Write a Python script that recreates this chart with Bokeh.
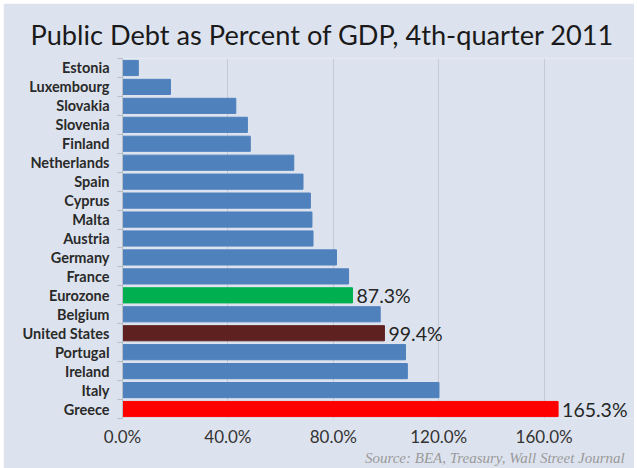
from bokeh.plotting import figure
from bokeh.models import (ColumnDataSource, Range1d, FixedTicker, PrintfTickFormatter,
                          LabelSet, Title)
from bokeh.core.properties import value
from bokeh.embed import file_html
from bokeh.resources import INLINE

countries = ["Estonia", "Luxembourg", "Slovakia", "Slovenia", "Finland", "Netherlands",
             "Spain", "Cyprus", "Malta", "Austria", "Germany", "France", "Eurozone",
             "Belgium", "United States", "Portugal", "Ireland", "Italy", "Greece"]
debt_pct = [6.0, 18.2, 43.0, 47.4, 48.5, 65.0, 68.5, 71.3, 71.9, 72.3, 81.2, 85.8, 87.3,
            97.8, 99.4, 107.4, 108.1, 120.1, 165.3]
x_ticks = [0, 40, 80, 120, 160]
labelled = {"Eurozone": "87.3%", "United States": "99.4%", "Greece": "165.3%"}
highlight = {"Eurozone": "#00b050", "United States": "#5e2120", "Greece": "#ff0000"}

BG = "#dde3ee"
BLUE = "#4f81bd"

n = len(countries)
idx = list(range(n))
colors = [highlight.get(c, BLUE) for c in countries]

src = ColumnDataSource(dict(y=idx, v=debt_pct, name=countries, color=colors))
lab_src = ColumnDataSource(dict(
    y=[countries.index(c) for c in labelled],
    v=[debt_pct[countries.index(c)] for c in labelled],
    t=list(labelled.values())))

p = figure(frame_width=512, frame_height=360,
           x_range=Range1d(0, 194.3), y_range=Range1d(n - 0.5, -0.5),
           output_backend="svg", toolbar_location=None,
           min_border_left=119, min_border_right=0, min_border_top=55, min_border_bottom=50)
p.margin = (3, 3, 0, 3)
p.background_fill_color = BG
p.border_fill_color = BG
p.outline_line_color = None

p.title.text = "Public Debt as Percent of GDP, 4th-quarter 2011"
p.title.align = "left"
p.title.offset = -92
p.title.text_font = "Lato"
p.title.text_font_size = "27.2px"
p.title.text_font_style = "normal"
p.title.text_color = "#1a1a1a"
p.title.standoff = 15

p.hbar(y="y", right="v", left=0, height=0.8, fill_color="color", line_color="color",
       source=src)

p.add_layout(LabelSet(x="v", y="y", text="t", source=lab_src, x_offset=4,
                      text_baseline="middle", text_align="left",
                      text_font_size=value("19.5px"), text_color="#262626",
                      text_font=value("Lato")))

# axes
p.xaxis.ticker = FixedTicker(ticks=x_ticks)
p.xaxis.formatter = PrintfTickFormatter(format="%.1f%%")
p.xaxis.axis_line_color = None
p.xaxis.major_tick_line_color = None
p.xaxis.minor_tick_line_color = None
p.xaxis.major_tick_out = 0
p.xaxis.major_label_standoff = 7
p.xaxis.major_label_text_font = "Lato"
p.xaxis.major_label_text_font_size = "17px"
p.xaxis.major_label_text_color = "#333333"

p.yaxis.ticker = FixedTicker(ticks=idx, minor_ticks=[i - 0.5 for i in range(n + 1)])
p.yaxis.major_label_overrides = {i: c for i, c in enumerate(countries)}
p.yaxis.axis_line_color = "#b8bec8"
p.yaxis.major_tick_line_color = None
p.yaxis.major_tick_out = 0
p.yaxis.minor_tick_line_color = "#b8bec8"
p.yaxis.minor_tick_out = 5
p.yaxis.minor_tick_in = 0
p.yaxis.major_label_standoff = 8
p.yaxis.major_label_text_font = "Lato"
p.yaxis.major_label_text_font_size = "14.5px"
p.yaxis.major_label_text_font_style = "bold"
p.yaxis.major_label_text_color = "#2a2a2a"

p.xgrid.ticker = FixedTicker(ticks=x_ticks[1:])
p.xgrid.grid_line_color = "#c5cbd6"
p.ygrid.grid_line_color = None

p.add_layout(Title(text="Source:  BEA, Treasury, Wall Street Journal", align="right",
                   offset=6, text_font="Liberation Serif", text_font_style="italic",
                   text_font_size="15px", text_color="#9a9a9a", standoff=-3), "below")

open("out.html", "w").write(file_html(p, INLINE))
